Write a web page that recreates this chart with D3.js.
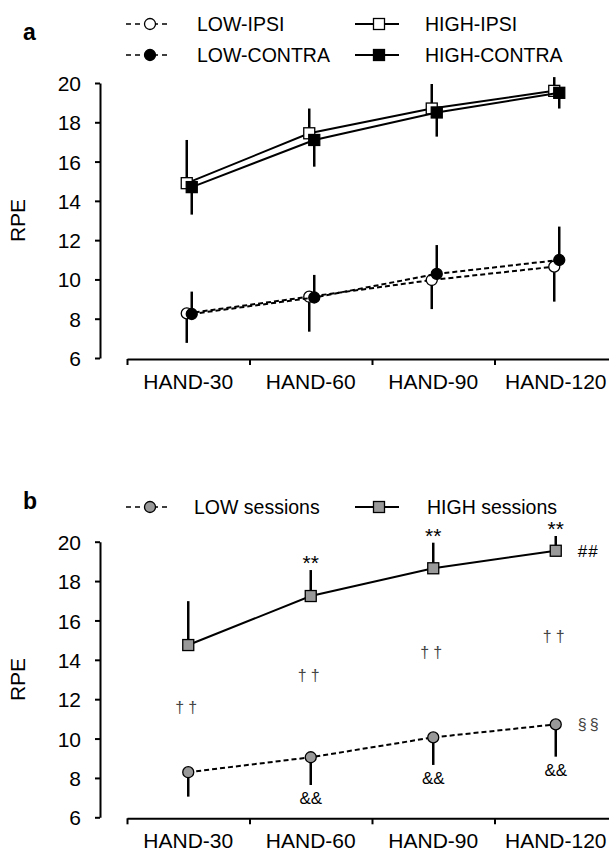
<!DOCTYPE html>
<html>
<head>
<meta charset="utf-8">
<script src="https://cdnjs.cloudflare.com/ajax/libs/d3/7.8.5/d3.min.js"></script>
<style>
  body { margin: 0; background: #fff; }
  text { font-family: "Liberation Sans", Arial, sans-serif; fill: #000; }
  .axis path, .axis line { stroke: #000; stroke-width: 2px; }
  .axis text { font-size: 21px; }
</style>
</head>
<body>
<script>
// categories + y ticks
var hands = ["HAND-30", "HAND-60", "HAND-90", "HAND-120"];
var yTicks = [6, 8, 10, 12, 14, 16, 18, 20];

// panel a (means and the one-sided SD)
var lowIpsi = [8.27, 9.12, 9.97, 10.65];
var lowIpsiSd = [1.5, 1.78, 1.48, 1.78];
var lowContra = [8.24, 9.08, 10.28, 10.99];
var lowContraSd = [1.14, 1.15, 1.47, 1.7];
var highIpsi = [14.9, 17.44, 18.7, 19.6];
var highIpsiSd = [2.2, 1.26, 1.25, 0.7];
var highContra = [14.7, 17.1, 18.5, 19.5];
var highContraSd = [1.4, 1.36, 1.23, 0.8];

// panel b
var lowSessions = [8.29, 9.05, 10.06, 10.72];
var lowSessionsSd = [1.24, 1.41, 1.4, 1.64];
var highSessions = [14.75, 17.24, 18.65, 19.54];
var highSessionsSd = [2.23, 1.32, 1.3, 0.75];

// significance marks for panel b
var starMarks = ["", "**", "**", "**"];
var daggerMarks = ["††", "††", "††", "††"];
var ampMarks = ["", "&&", "&&", "&&"];

var svg = d3.select("body").append("svg")
  .attr("width", 609)
  .attr("height", 854);

var x = d3.scaleBand().domain(hands).range([127, 617]).padding(0);
var xEdge = d3.scaleLinear().domain([0, 4]).range([127, 617]);

function makePanel(top, bottom) {
  var y = d3.scaleLinear().domain([6, 20]).range([bottom, top]);

  svg.append("g")
    .attr("class", "axis")
    .attr("transform", "translate(100,0)")
    .call(d3.axisLeft(y).tickValues(yTicks).tickSize(5).tickSizeOuter(0).tickPadding(14))
    .selectAll("text").attr("dy", "0.36em");

  svg.append("g")
    .attr("class", "axis")
    .attr("transform", "translate(0," + (bottom + 1) + ")")
    .call(d3.axisBottom(xEdge).tickValues([0, 1, 2, 3, 4]).tickFormat("").tickSize(6).tickSizeOuter(0));

  svg.append("g").selectAll("text")
    .data(hands)
    .enter().append("text")
    .attr("x", function(d) { return x(d) + x.bandwidth() / 2; })
    .attr("y", bottom + 31)
    .attr("text-anchor", "middle")
    .style("font-size", "21px")
    .text(function(d) { return d; });

  svg.append("text")
    .attr("transform", "translate(25," + ((top + bottom) / 2) + ") rotate(-90)")
    .attr("text-anchor", "middle")
    .style("font-size", "21px")
    .text("RPE");

  return y;
}

function drawSeries(y, vals, sds, dir, shift, dashed, shape, fill) {
  var cx = function(i) { return x(hands[i]) + x.bandwidth() / 2 + shift; };
  var line = d3.line()
    .x(function(d, i) { return cx(i); })
    .y(function(d) { return y(d); });

  svg.append("path")
    .datum(vals)
    .attr("d", line)
    .attr("fill", "none")
    .attr("stroke", "#000")
    .attr("stroke-width", 2)
    .attr("stroke-dasharray", dashed ? "5,3" : null);

  svg.append("g").selectAll("line")
    .data(vals)
    .enter().append("line")
    .attr("x1", function(d, i) { return cx(i); })
    .attr("x2", function(d, i) { return cx(i); })
    .attr("y1", function(d) { return y(d); })
    .attr("y2", function(d, i) { return y(d + dir * sds[i]); })
    .attr("stroke", "#000")
    .attr("stroke-width", 2.5);

  var g = svg.append("g");
  vals.forEach(function(d, i) {
    drawMarker(g, cx(i), y(d), shape, fill);
  });
}

function drawMarker(g, px, py, shape, fill) {
  if (shape == "circle") {
    g.append("circle")
      .attr("cx", px).attr("cy", py).attr("r", 5.5)
      .attr("fill", fill).attr("stroke", "#000").attr("stroke-width", 1.3);
  } else {
    g.append("rect")
      .attr("x", px - 5.5).attr("y", py - 5.5)
      .attr("width", 11).attr("height", 11)
      .attr("fill", fill).attr("stroke", "#000").attr("stroke-width", 1.3);
  }
}

function legendItem(px, py, dashed, shape, fill, label, tx) {
  var g = svg.append("g");
  g.append("line")
    .attr("x1", px - 24).attr("x2", px + 20)
    .attr("y1", py).attr("y2", py)
    .attr("stroke", "#000").attr("stroke-width", dashed ? 1.5 : 2)
    .attr("stroke-dasharray", dashed ? "5,4" : null);
  drawMarker(g, px, py, shape, fill);
  g.append("text")
    .attr("x", tx).attr("y", py)
    .attr("dy", "0.35em")
    .style("font-size", "19.5px")
    .text(label);
}

// ---- panel a ----
svg.append("text").attr("x", 23).attr("y", 40)
  .style("font-size", "23px").style("font-weight", "bold").text("a");

legendItem(150, 24, true, "circle", "#fff", "LOW-IPSI", 197);
legendItem(379, 24, false, "rect", "#fff", "HIGH-IPSI", 425);
legendItem(150, 55, true, "circle", "#000", "LOW-CONTRA", 197);
legendItem(379, 55, false, "rect", "#000", "HIGH-CONTRA", 425);

var ya = makePanel(83, 358);
drawSeries(ya, highIpsi, highIpsiSd, 1, -1.5, false, "rect", "#fff");
drawSeries(ya, highContra, highContraSd, -1, 3.5, false, "rect", "#000");
drawSeries(ya, lowIpsi, lowIpsiSd, -1, -1.5, true, "circle", "#fff");
drawSeries(ya, lowContra, lowContraSd, 1, 3.5, true, "circle", "#000");

// ---- panel b ----
svg.append("text").attr("x", 23).attr("y", 509)
  .style("font-size", "23px").style("font-weight", "bold").text("b");

legendItem(150, 507, true, "circle", "#999", "LOW sessions", 194);
legendItem(379, 507, false, "rect", "#999", "HIGH sessions", 427);

var yb = makePanel(541.7, 817.3);
drawSeries(yb, highSessions, highSessionsSd, 1, 0, false, "rect", "#999");
drawSeries(yb, lowSessions, lowSessionsSd, -1, 0, true, "circle", "#999");

var mid = function(i) { return x(hands[i]) + x.bandwidth() / 2; };

svg.append("g").selectAll("text")
  .data(starMarks)
  .enter().append("text")
  .attr("x", function(d, i) { return mid(i); })
  .attr("y", function(d, i) { return yb(highSessions[i] + highSessionsSd[i]); })
  .attr("text-anchor", "middle")
  .style("font-size", "21px")
  .text(function(d) { return d; });

svg.append("g").selectAll("text")
  .data(daggerMarks)
  .enter().append("text")
  .attr("x", function(d, i) { return mid(i); })
  .attr("y", function(d, i) { return yb((highSessions[i] + lowSessions[i]) / 2); })
  .attr("dy", "0.3em")
  .attr("text-anchor", "middle")
  .style("font-size", "16px")
  .style("letter-spacing", "4px")
  .style("fill", "#444")
  .text(function(d) { return d; });

svg.append("g").selectAll("text")
  .data(ampMarks)
  .enter().append("text")
  .attr("x", function(d, i) { return mid(i); })
  .attr("y", function(d, i) { return yb(lowSessions[i] - lowSessionsSd[i]) + 19; })
  .attr("text-anchor", "middle")
  .style("font-size", "17px")
  .text(function(d) { return d; });

svg.append("text")
  .attr("x", mid(3) + 22).attr("y", yb(highSessions[3]))
  .attr("dy", "0.35em")
  .style("font-size", "17px")
  .style("letter-spacing", "1px")
  .text("##");

svg.append("text")
  .attr("x", mid(3) + 22).attr("y", yb(lowSessions[3]))
  .attr("dy", "0.35em")
  .style("font-size", "16px")
  .style("letter-spacing", "3px")
  .style("fill", "#444")
  .text("§§");
</script>
</body>
</html>
